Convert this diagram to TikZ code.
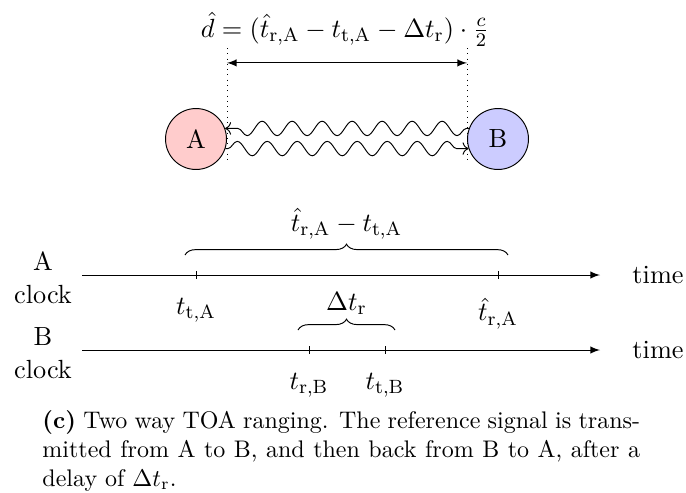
\documentclass[tikz,border=0pt]{standalone}
\usetikzlibrary{arrows.meta, positioning, decorations.pathmorphing, decorations.pathreplacing}

\begin{document}
\begin{tikzpicture}[
    x=0.41667pt, y=-0.41667pt,
    font=\fontsize{10.95}{13.6}\selectfont,
    station/.style={draw, circle, minimum size=25.4pt, inner sep=0pt},
    wave/.style={->, decorate, decoration={snake, segment length=12.5pt, amplitude=3pt, pre length=1pt, post length=2pt}},
    axis/.style={-latex},
    guide/.style={dotted, very thin},
    tbrace/.style={decorate, decoration={brace, amplitude=4.5pt}},
    clocklabel/.style={align=center}
]
\useasboundingbox (0,0) rectangle (686,492);

% Stations
\node (formula) at (345,29) {$\hat{d} = (\hat{t}_{\mathrm{r,A}} - t_{\mathrm{t,A}} - \Delta t_{\mathrm{r}}) \cdot \frac{c}{2}$};
\node (A) [station, fill=red!20] at (196,139) {A};
\node (B) [station, fill=blue!20] at (498,139) {B};

% Distance
\draw[guide] ([yshift=37.9pt]A.east) -- ([yshift=-9.6pt]A.east);
\draw[guide] ([yshift=37.9pt]B.west) -- ([yshift=-9.6pt]B.west);
\coordinate (dimA) at ([yshift=31.7pt]A.east);
\coordinate (dimB) at ([yshift=31.7pt]B.west);
\draw[latex-latex] (dimA) -- (dimB);

% Signals
\draw[wave] (B.160) -- (A.20);
\draw[wave] (A.-18) -- (B.198);

% Clocks
\node (clockA) [clocklabel] at (43,278) {A\\clock};
\node (clockB) [clocklabel] at (43,353) {B\\clock};
\coordinate (a0) at (82,275);
\coordinate (a1) at (600,275);
\coordinate (b0) at (82,350);
\coordinate (b1) at (600,350);
\draw[axis] (a0) -- (a1);
\draw[axis] (b0) -- (b1);
\node (timeA) [right=10pt of a1] {time};
\node (timeB) [right=10pt of b1] {time};

% Ticks
\coordinate (ttA) at (196,275);
\coordinate (trA) at (498,275);
\coordinate (trB) at (309,350);
\coordinate (ttB) at (385,350);
\foreach \p in {ttA, trA, trB, ttB}
    \draw (\p) ++(0,-4) -- ++(0,8);
\node (lttA) [below=6pt of ttA] {$t_{\mathrm{t,A}}$};
\node (ltrA) [below=6pt of trA] {$\hat{t}_{\mathrm{r,A}}$};
\node (ltrB) [below=6pt of trB] {$t_{\mathrm{r,B}}$};
\node (lttB) [below=6pt of ttB] {$t_{\mathrm{t,B}}$};

% Braces
\coordinate (br0) at (185,255);
\coordinate (br1) at (508,255);
\coordinate (bd0) at (298,330);
\coordinate (bd1) at (395,330);
\draw[tbrace] (br0) -- (br1) node[midway, above=3pt] (round) {$\hat{t}_{\mathrm{r,A}} - t_{\mathrm{t,A}}$};
\draw[tbrace] (bd0) -- (bd1) node[midway, above=2.8pt] (delay) {$\Delta t_{\mathrm{r}}$};

% Caption
\node (caption) [anchor=north west, text width=249pt, inner sep=0pt, align=justify, font=\fontsize{10}{12}\selectfont] at (42,410) {\textbf{(c)} Two way TOA ranging. The reference signal is transmitted from A to B, and then back from B to A, after a delay of $\Delta t_{\mathrm{r}}$.};

\end{tikzpicture}
\end{document}
